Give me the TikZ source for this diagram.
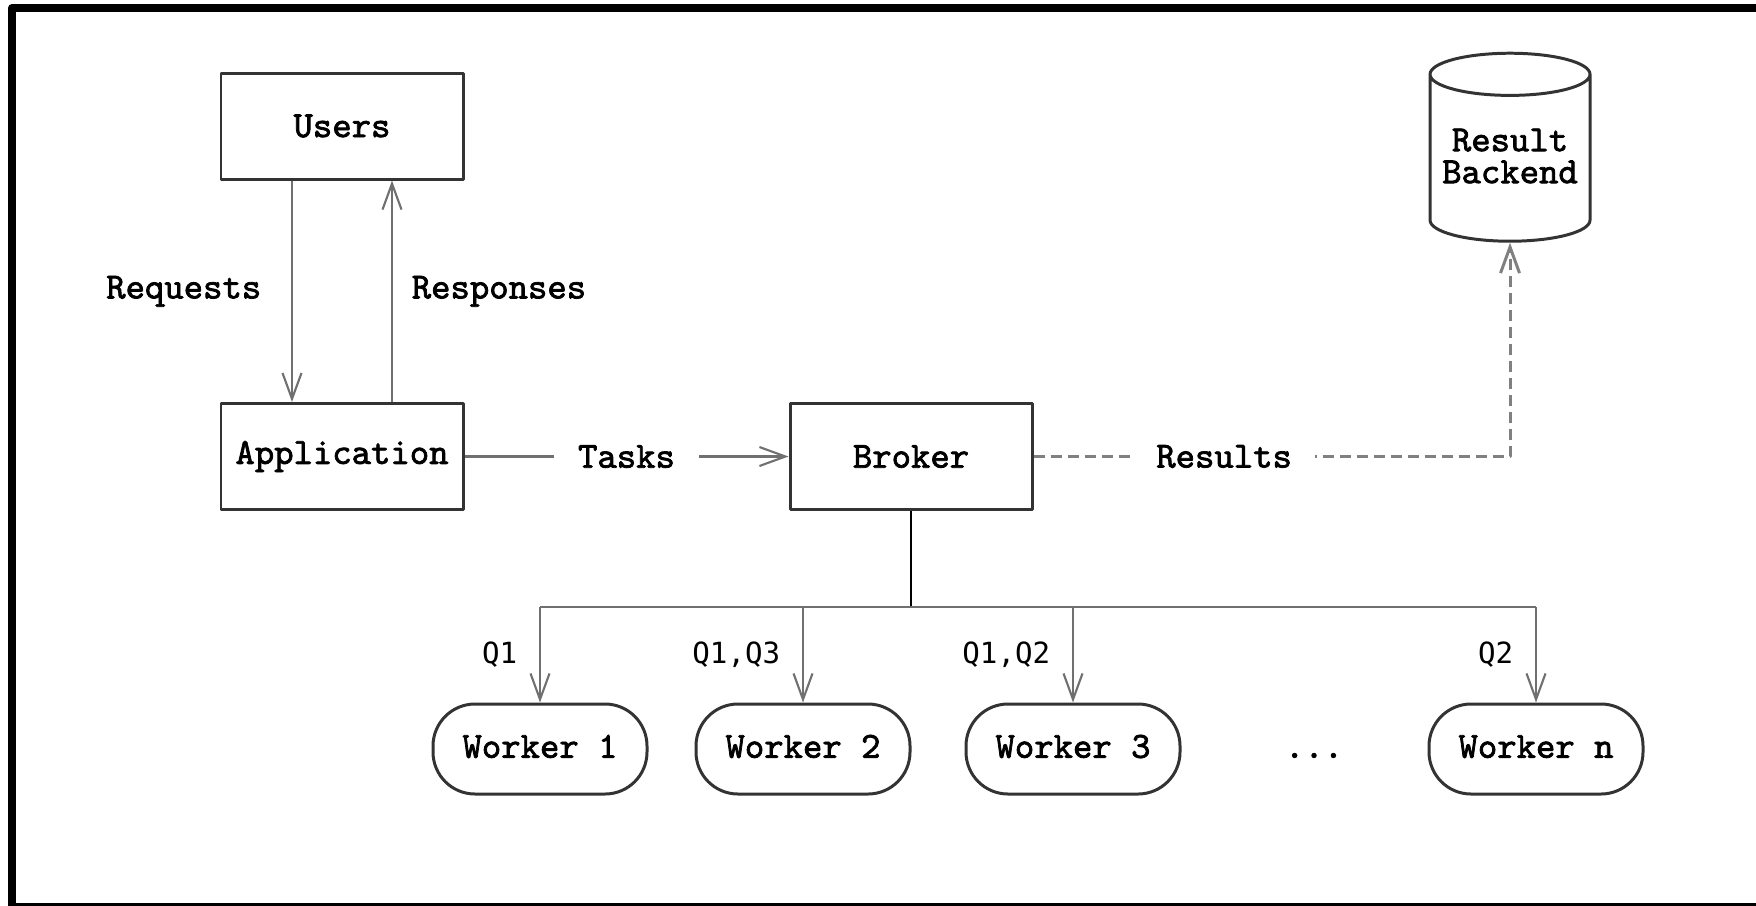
\documentclass[tikz,border=0pt]{standalone}
\usepackage{fontspec}
\newfontfamily\qfont{DejaVu Sans Mono}
\newfontfamily\boxfont{lmmono10-regular}[Extension=.otf, FakeBold=2]
\usetikzlibrary{arrows.meta,shapes.geometric,positioning}
\definecolor{boxgray}{HTML}{333333}
\definecolor{wiregray}{HTML}{707070}
\definecolor{dashgray}{HTML}{808080}
\tikzset{
  every picture/.style={
    line join=round,
    >={Straight Barb[length=0.26cm,width=0.19cm]},   % open V tips
  },
  txt/.style={font=\boxfont\fontsize{10.5}{9.1}\selectfont},
  box/.style={txt, draw=boxgray, line width=0.85pt,
    minimum width=2.42cm, minimum height=1.06cm},
  store/.style={cylinder, shape border rotate=90, aspect=1.8,
    draw=boxgray, line width=0.85pt,
    minimum width=1.6cm, minimum height=1.88cm},
  worker/.style={txt, draw=boxgray, line width=0.85pt, rounded corners=0.42cm,
    minimum width=2.14cm, minimum height=0.9cm,
    text height=0.62em, text depth=0.12em},
  wire/.style={draw=wiregray, line width=0.6pt},
  dashwire/.style={draw=dashgray, line width=0.85pt, dash pattern=on 0.11cm off 0.06cm},
  lbl/.style={txt},
  gaplbl/.style={txt, fill=white, inner ysep=2pt},
  qlbl/.style={left=0.1cm, font=\qfont\fontsize{8.3}{10}\selectfont},
}

\begin{document}
\begin{tikzpicture}
    \useasboundingbox (0,0) rectangle (17.56,9.05);
    % Frame
    \draw[line width=2.28pt] (0.12,8.97) rectangle (17.6,-0.02);

    % Front end
    \node[box] (users) at (3.42,7.79) {Users};
    \node[box] (app) at (3.42,4.485) {Application};
    \draw[wire,->] ([xshift=-0.5cm]users.south) -- node[lbl, left=0.18cm] {Requests} ([xshift=-0.5cm]app.north);
    \draw[wire,->] ([xshift=0.5cm]app.north) -- node[lbl, right=0.07cm] {Responses} ([xshift=0.5cm]users.south);

    % Broker and results
    \node[store] (backend) at (15.10,7.41) {};
    \node[txt, align=center] (backendtxt) at (15.10,7.49) {Result\\Backend};
    \node[box] (broker) at (9.11,4.485) {Broker};
    \draw[wire,->] (app) -- node[gaplbl, inner xsep=0.24cm] {Tasks} (broker);
    \draw[dashwire,->] (broker.east) -| node[pos=0.2, gaplbl, inner xsep=0.23cm] {Results} (backend.south);

    % Workers
    \foreach \n/\x/\t in {w1/5.40/Worker 1, w2/8.03/Worker 2, w3/10.73/Worker 3, wn/15.36/Worker n}
        \node[worker] (\n) at (\x,1.56) {\t};
    \node[worker, draw=none] (dots) at (13.14,1.56) {...};

    \draw[line width=0.8pt] (broker.south) -- ++(0,-0.96) coordinate (hub);
    \draw[wire] (hub -| w1) -- (hub -| wn);
    \foreach \n/\q in {w1/Q1, w2/{Q1,Q3}, w3/{Q1,Q2}, wn/Q2}
        \draw[wire,->] (hub -| \n) -- node[qlbl] {\q} (\n.north);
\end{tikzpicture}
\end{document}
